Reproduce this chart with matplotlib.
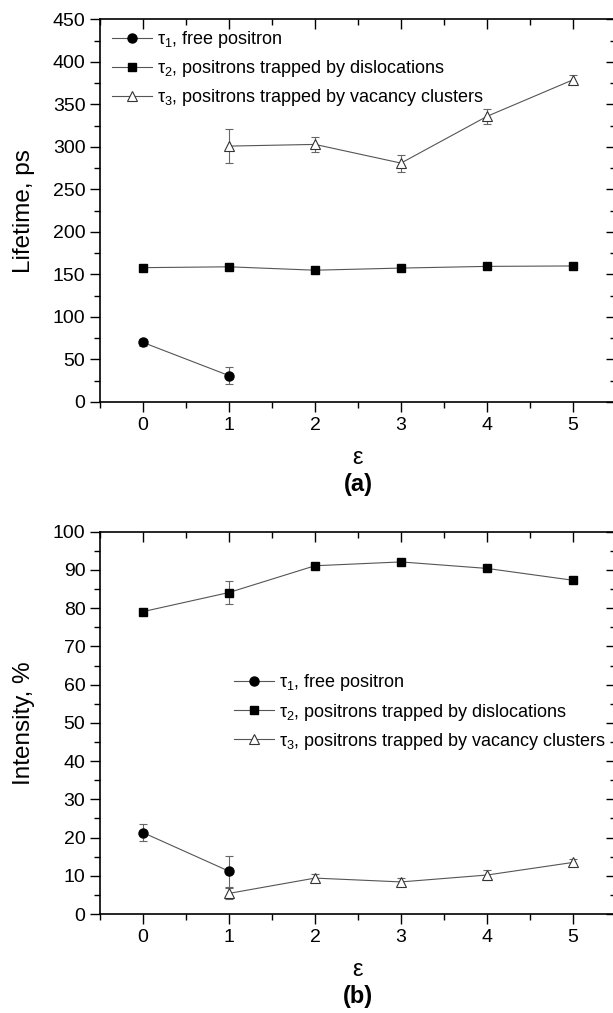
import numpy as np
import matplotlib
matplotlib.use('Agg')
import matplotlib.pyplot as plt
from matplotlib.ticker import MultipleLocator

plt.rcParams['font.family'] = ['Liberation Sans', 'DejaVu Sans']
plt.rcParams['mathtext.fontset'] = 'custom'
plt.rcParams['mathtext.rm'] = 'Liberation Sans'
plt.rcParams['mathtext.it'] = 'Liberation Sans:italic'

# strain values
eps = [0, 1, 2, 3, 4, 5]

# (a) lifetimes, ps
tau1_x = [0, 1]
tau1 = [70, 31]
tau1_err = [4.5, 10]
tau2 = [158, 159, 155, 157.5, 159.5, 160]
tau2_err = [2, 2, 2, 2, 2, 2]
tau3_x = [1, 2, 3, 4, 5]
tau3 = [301, 303, 281, 336, 379]
tau3_err = [20, 9, 10, 9, 5.5]

# (b) intensities, %
I1 = [21.3, 11.2]
I1_err = [2.2, 4]
I2 = [79.1, 84.1, 91.1, 92.1, 90.4, 87.3]
I2_err = [0.5, 3, 0.5, 0.5, 0.5, 0.5]
I3 = [5.4, 9.4, 8.4, 10.2, 13.5]
I3_err = [1.5, 1, 1, 1.2, 1]

labels = [r'$\mathregular{\tau_1}$, free positron',
          r'$\mathregular{\tau_2}$, positrons trapped by dislocations',
          r'$\mathregular{\tau_3}$, positrons trapped by vacancy clusters']

fig = plt.figure(figsize=(6.13, 10.13), dpi=100)
ax1 = fig.add_axes([0.1631, 0.6032, 0.8418, 0.3776])
ax2 = fig.add_axes([0.1631, 0.0977, 0.8418, 0.3774])

line_kw = dict(color='#555555', lw=0.8, ecolor='#666666', elinewidth=0.8, capsize=3, capthick=0.8)


def draw(ax, y1, e1, y2, e2, y3, e3):
    h1 = ax.errorbar(tau1_x, y1, yerr=e1, marker='o', ms=6.5, mfc='black', mec='black', **line_kw)
    h2 = ax.errorbar(eps, y2, yerr=e2, marker='s', ms=6, mfc='black', mec='black', **line_kw)
    h3 = ax.errorbar(tau3_x, y3, yerr=e3, marker='^', ms=7.5, mfc='white', mec='#333333', mew=0.8, **line_kw)
    return [h1[0], h2[0], h3[0]]


def style(ax, ymax, major, minor, ylabel, tag):
    ax.set_xlim(-0.5, 5.5)
    ax.set_ylim(0, ymax)
    ax.xaxis.set_major_locator(MultipleLocator(1))
    ax.xaxis.set_minor_locator(MultipleLocator(0.5))
    ax.yaxis.set_major_locator(MultipleLocator(major))
    ax.yaxis.set_minor_locator(MultipleLocator(minor))
    ax.tick_params(which='both', direction='out', labelsize=14, width=1, color='black')
    ax.tick_params(axis='x', which='both', top=True)
    ax.tick_params(axis='y', which='both', right=True)
    ax.tick_params(which='major', length=7)
    ax.tick_params(which='minor', length=4)
    # top and right ticks point inward
    for t in ax.xaxis.get_major_ticks() + ax.xaxis.get_minor_ticks():
        t.tick2line.set_marker(3)
    for t in ax.yaxis.get_major_ticks() + ax.yaxis.get_minor_ticks():
        t.tick2line.set_marker(0)
    for s in ax.spines.values():
        s.set_linewidth(1.2)
    ax.set_ylabel(ylabel, fontsize=17.5, va='center')
    ax.yaxis.set_label_coords(-0.147, 0.5)
    ax.set_xlabel('ε', fontsize=17, va='center')
    ax.xaxis.set_label_coords(0.5, -0.147)
    ax.text(0.5, -0.216, tag, transform=ax.transAxes, ha='center', va='center',
            fontsize=17, fontweight='bold')


hs = draw(ax1, tau1, tau1_err, tau2, tau2_err, tau3, tau3_err)
style(ax1, 450, 50, 25, 'Lifetime, ps', '(a)')
ax1.legend(hs, labels, loc='upper left', bbox_to_anchor=(0.023, 0.975), frameon=False,
           fontsize=13, handlelength=2.2, handletextpad=0.3, labelspacing=0.45,
           borderpad=0, borderaxespad=0, numpoints=1)

hs = draw(ax2, I1, I1_err, I2, I2_err, I3, I3_err)
style(ax2, 100, 10, 5, 'Intensity, %', '(b)')
ax2.legend(hs, labels, loc='upper left', bbox_to_anchor=(0.26, 0.632), frameon=False,
           fontsize=13, handlelength=2.2, handletextpad=0.3, labelspacing=0.45,
           borderpad=0, borderaxespad=0, numpoints=1)

fig.savefig('out.png', dpi=100)
